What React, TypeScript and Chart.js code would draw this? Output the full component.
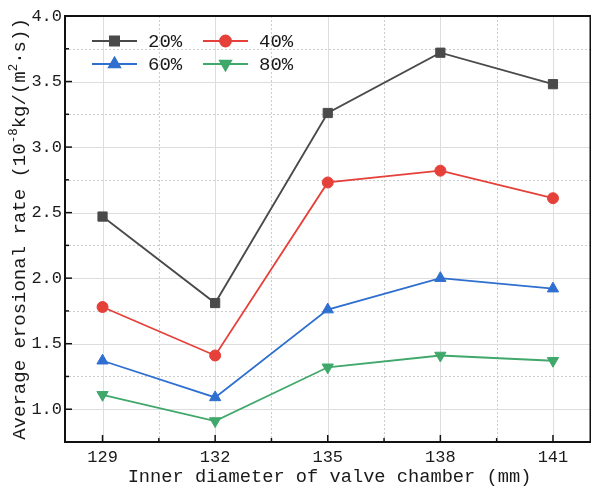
import React, { useEffect, useRef } from 'react';
import { Chart, registerables } from 'chart.js';
import { drawPoint } from 'chart.js/helpers';

Chart.register(...registerables);

const diameters = [129, 132, 135, 138, 141];
const rate20 = [2.47, 1.81, 3.26, 3.72, 3.48];
const rate40 = [1.78, 1.41, 2.73, 2.82, 2.61];
const rate60 = [1.37, 1.09, 1.76, 2.0, 1.92];
const rate80 = [1.11, 0.91, 1.32, 1.41, 1.37];
const seriesLabels = ['20%', '40%', '60%', '80%'];

const xMajorTicks = [129, 132, 135, 138, 141];
const xMinorTicks = [130.5, 133.5, 136.5, 139.5];
const yMajorTicks = [1.0, 1.5, 2.0, 2.5, 3.0, 3.5, 4.0];
const yMinorTicks = [0.75, 1.25, 1.75, 2.25, 2.75, 3.25, 3.75];

const xTitle = 'Inner diameter of valve chamber (mm)';
const yTitleParts: { t: string; sup?: boolean }[] = [
  { t: 'Average erosional rate (10' },
  { t: '-8', sup: true },
  { t: 'kg/(m' },
  { t: '2', sup: true },
  { t: '\u00b7s))' },
];

const FONT = '"Liberation Mono", "DejaVu Sans Mono", monospace';
const TEXT = '#1a1a1a';

const framePlugin = {
  id: 'frame',
  beforeDatasetsDraw(chart: any) {
    const { ctx, chartArea: a, scales } = chart;
    const x = scales.x;
    const y = scales.y;
    ctx.save();
    ctx.lineWidth = 1;
    ctx.strokeStyle = '#cccccc';
    ctx.setLineDash([2, 2]);
    for (const v of xMinorTicks) {
      const px = Math.round(x.getPixelForValue(v)) + 0.5;
      ctx.beginPath();
      ctx.moveTo(px, a.top);
      ctx.lineTo(px, a.bottom);
      ctx.stroke();
    }
    for (const v of yMinorTicks) {
      const py = Math.round(y.getPixelForValue(v)) + 0.5;
      if (py >= a.bottom - 1) continue;
      ctx.beginPath();
      ctx.moveTo(a.left, py);
      ctx.lineTo(a.right, py);
      ctx.stroke();
    }
    ctx.setLineDash([]);
    ctx.strokeStyle = '#dddddd';
    for (const v of xMajorTicks) {
      const px = Math.round(x.getPixelForValue(v)) + 0.5;
      ctx.beginPath();
      ctx.moveTo(px, a.top);
      ctx.lineTo(px, a.bottom);
      ctx.stroke();
    }
    for (const v of yMajorTicks) {
      const py = Math.round(y.getPixelForValue(v)) + 0.5;
      ctx.beginPath();
      ctx.moveTo(a.left, py);
      ctx.lineTo(a.right, py);
      ctx.stroke();
    }
    ctx.restore();
  },
  afterDatasetsDraw(chart: any) {
    const { ctx, chartArea: a, scales } = chart;
    const x = scales.x;
    const y = scales.y;
    ctx.save();
    // frame
    ctx.strokeStyle = '#111';
    ctx.lineWidth = 2;
    ctx.strokeRect(a.left, a.top, a.right - a.left, a.bottom - a.top);
    // ticks (inward)
    ctx.lineWidth = 1.5;
    for (const v of xMajorTicks) {
      const px = x.getPixelForValue(v);
      ctx.beginPath();
      ctx.moveTo(px, a.bottom);
      ctx.lineTo(px, a.bottom - 7);
      ctx.stroke();
    }
    for (const v of xMinorTicks) {
      const px = x.getPixelForValue(v);
      ctx.beginPath();
      ctx.moveTo(px, a.bottom);
      ctx.lineTo(px, a.bottom - 4);
      ctx.stroke();
    }
    for (const v of yMajorTicks) {
      const py = y.getPixelForValue(v);
      ctx.beginPath();
      ctx.moveTo(a.left, py);
      ctx.lineTo(a.left + 7, py);
      ctx.stroke();
    }
    for (const v of yMinorTicks) {
      const py = y.getPixelForValue(v);
      ctx.beginPath();
      ctx.moveTo(a.left, py);
      ctx.lineTo(a.left + 4, py);
      ctx.stroke();
    }

    // legend
    const cols = [92, 203];
    const rows = [41, 64];
    chart.data.datasets.forEach((ds: any, i: number) => {
      const cx = cols[i % 2];
      const cy = rows[Math.floor(i / 2)];
      ctx.strokeStyle = ds.borderColor;
      ctx.lineWidth = ds.borderWidth;
      ctx.beginPath();
      ctx.moveTo(cx, cy);
      ctx.lineTo(cx + 45, cy);
      ctx.stroke();
      ctx.fillStyle = ds.pointBackgroundColor;
      ctx.strokeStyle = ds.pointBorderColor;
      drawPoint(
        ctx,
        {
          pointStyle: ds.pointStyle,
          rotation: ds.pointRotation || 0,
          radius: ds.pointRadius,
          borderWidth: 1,
        } as any,
        cx + 22.5,
        cy
      );
      ctx.fillStyle = TEXT;
      ctx.font = `19px ${FONT}`;
      ctx.textAlign = 'left';
      ctx.textBaseline = 'middle';
      ctx.fillText(ds.label, cx + 56, cy + 1);
    });

    // x title
    ctx.fillStyle = TEXT;
    ctx.font = `18.7px ${FONT}`;
    ctx.textAlign = 'center';
    ctx.textBaseline = 'middle';
    ctx.fillText(xTitle, (a.left + 594) / 2, 477);

    // y title (rotated)
    const big = `19px ${FONT}`;
    const small = `12.5px ${FONT}`;
    let total = 0;
    for (const p of yTitleParts) {
      ctx.font = p.sup ? small : big;
      total += ctx.measureText(p.t).width;
    }
    ctx.save();
    ctx.translate(20, (a.top + a.bottom) / 2);
    ctx.rotate(-Math.PI / 2);
    ctx.textAlign = 'left';
    ctx.textBaseline = 'middle';
    let pos = -total / 2;
    for (const p of yTitleParts) {
      ctx.font = p.sup ? small : big;
      ctx.fillText(p.t, pos, p.sup ? -6 : 0);
      pos += ctx.measureText(p.t).width;
    }
    ctx.restore();
    ctx.restore();
  },
};

function makeSeries(label: string, values: number[], color: string, style: string, radius: number, rotation = 0) {
  return {
    label,
    data: diameters.map((d, i) => ({ x: d, y: values[i] })),
    borderColor: color,
    backgroundColor: color,
    pointBackgroundColor: color,
    pointBorderColor: color,
    borderWidth: 1.8,
    pointStyle: style,
    pointRadius: radius,
    pointRotation: rotation,
    pointBorderWidth: 1,
    tension: 0,
  };
}

export default function App() {
  const ref = useRef<HTMLCanvasElement | null>(null);
  useEffect(() => {
    if (!ref.current) return;
    const chart = new Chart(ref.current, {
      type: 'line',
      data: {
        datasets: [
          makeSeries(seriesLabels[0], rate20, '#4a4a4a', 'rect', 6.5),
          makeSeries(seriesLabels[1], rate40, '#e5403a', 'circle', 5.5),
          makeSeries(seriesLabels[2], rate60, '#2f6fd0', 'triangle', 6.5),
          makeSeries(seriesLabels[3], rate80, '#3fa86a', 'triangle', 6.5, 180),
        ] as any,
      },
      options: {
        responsive: false,
        animation: false,
        devicePixelRatio: 1,
        layout: { padding: { top: 16, left: 0, right: 4, bottom: 0 } },
        plugins: { legend: { display: false }, tooltip: { enabled: false } },
        scales: {
          x: {
            type: 'linear',
            min: 128,
            max: 142,
            afterBuildTicks: (s: any) => {
              s.ticks = xMajorTicks.map((v) => ({ value: v }));
            },
            afterFit: (s: any) => {
              s.height = 49;
            },
            grid: { display: false, drawTicks: false },
            border: { display: false },
            ticks: {
              font: { family: FONT, size: 17 },
              color: TEXT,
              padding: 5,
              callback: (v: any) => String(v),
            },
          },
          y: {
            type: 'linear',
            min: 0.75,
            max: 4.0,
            afterBuildTicks: (s: any) => {
              s.ticks = yMajorTicks.map((v) => ({ value: v }));
            },
            afterFit: (s: any) => {
              s.width = 65;
            },
            grid: { display: false, drawTicks: false },
            border: { display: false },
            ticks: {
              font: { family: FONT, size: 17 },
              color: TEXT,
              padding: 3,
              callback: (v: any) => Number(v).toFixed(1),
            },
          },
        },
      } as any,
      plugins: [framePlugin],
    });
    return () => chart.destroy();
  }, []);
  return (
    <div style={{ position: 'fixed', left: 0, top: 0, width: 591, height: 491, overflow: 'hidden', background: '#fff' }}>
      <canvas ref={ref} width={598} height={491} style={{ display: 'block' }} />
    </div>
  );
}
